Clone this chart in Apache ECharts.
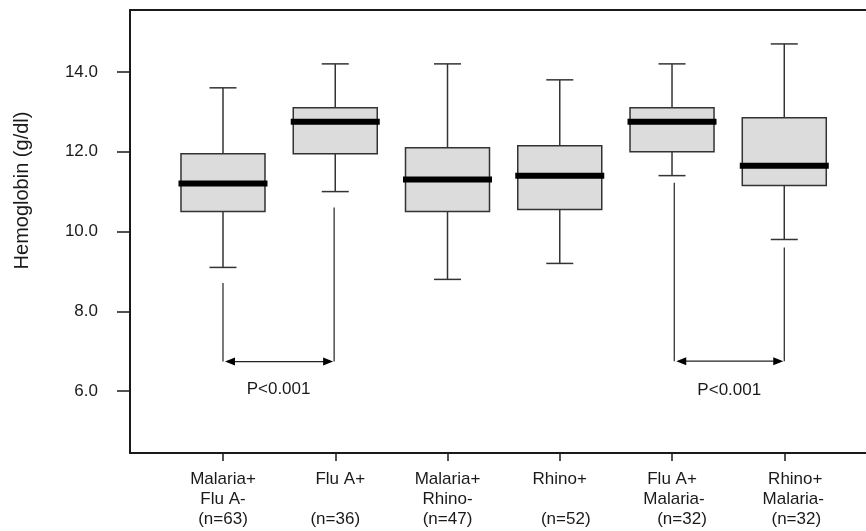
<!DOCTYPE html>
<html>
<head>
<meta charset="utf-8">
<script src="https://cdn.jsdelivr.net/npm/echarts@6/dist/echarts.min.js"></script>
<style>
  html, body { margin: 0; padding: 0; background: #fff; }
  #chart { width: 866px; height: 531px; }
</style>
</head>
<body>
<div id="chart"></div>
<script>
// groups along the x axis
const categories = [
  "Malaria+\nFlu A-\n(n=63)",
  "Flu A+\n\n(n=36)",
  "Malaria+\nRhino-\n(n=47)",
  "Rhino+\n\n(n=52)",
  "Flu A+\nMalaria-\n(n=32)",
  "Rhino+\nMalaria-\n(n=32)"
];
const positions = [1, 2, 3, 4, 5, 6];

// box plot values (g/dl)
const whiskerLow = [9.1, 11.0, 8.8, 9.2, 11.4, 9.8];
const q1 = [10.5, 11.95, 10.5, 10.55, 12.0, 11.15];
const median = [11.2, 12.75, 11.3, 11.4, 12.75, 11.65];
const q3 = [11.95, 13.1, 12.1, 12.15, 13.1, 12.85];
const whiskerHigh = [13.6, 14.2, 14.2, 13.8, 14.2, 14.7];

const yTicks = [6, 8, 10, 12, 14];

// comparison brackets
const compFrom = [1, 5.02];
const compFromTop = [8.71, 11.22];
const compTo = [1.99, 6];
const compToTop = [10.6, 9.6];
const compBar = [6.74, 6.75];
const compText = ["P<0.001", "P<0.001"];
const compTextY = [6.05, 6.03];

const ink = "#1a1a1a";
const font = "Liberation Sans, Arial, sans-serif";

// the original labels are not quite centred under their ticks
const labelNudge = [
  [0, 0, 0],
  [10, 0, 0],
  [0, 0, 0],
  [0, 0, 12],
  [0, 4, 20],
  [22, 18, 24]
];

const boxData = positions.map(function (p, i) {
  return [p, whiskerLow[i], q1[i], median[i], q3[i], whiskerHigh[i]];
});
const compData = compFrom.map(function (x, i) {
  return [x, compFromTop[i], compTo[i], compToTop[i], compBar[i], compTextY[i]];
});

const rich = {};
[0, 4, 10, 12, 18, 20, 22, 24].forEach(function (p) {
  rich["p" + p] = {
    fontSize: 17, lineHeight: 20, color: ink, fontFamily: font,
    padding: [0, 0, 0, p]
  };
});

const chart = echarts.init(document.getElementById("chart"));

const option = {
  animation: false,
  grid: { left: 130, right: 0, top: 10, bottom: 78 },
  xAxis: [
    {
      type: "value",
      position: "bottom",
      min: 0.1716,
      max: 6.728,
      axisLine: { show: true, lineStyle: { color: ink, width: 2 } },
      axisTick: { show: true, customValues: positions, length: 8, lineStyle: { color: ink, width: 1.5 } },
      axisLabel: {
        customValues: positions,
        formatter: function (v) {
          const i = Math.round(v) - 1;
          return categories[i].split("\n").map(function (s, k) {
            return s === "" ? "{p0| }" : "{p" + labelNudge[i][k] + "|" + s + "}";
          }).join("\n");
        },
        rich: rich,
        margin: 16,
        fontSize: 17,
        lineHeight: 20,
        color: ink,
        fontFamily: font
      },
      splitLine: { show: false }
    },
    {
      type: "value",
      position: "top",
      min: 0.1716,
      max: 6.728,
      axisLine: { show: true, lineStyle: { color: ink, width: 2 } },
      axisTick: { show: false },
      axisLabel: { show: false },
      splitLine: { show: false }
    }
  ],
  yAxis: {
    type: "value",
    min: 4.45,
    max: 15.55,
    name: "Hemoglobin (g/dl)",
    nameLocation: "middle",
    nameRotate: 90,
    nameGap: 98,
    nameTextStyle: { fontSize: 20, color: ink, fontFamily: font, padding: [0, 0, 0, 82] },
    axisLine: { show: true, lineStyle: { color: ink, width: 2 } },
    axisTick: { show: true, customValues: yTicks, length: 13, lineStyle: { color: ink, width: 1.5 } },
    axisLabel: {
      customValues: yTicks,
      formatter: function (v) { return v.toFixed(1); },
      margin: 32,
      fontSize: 17,
      color: ink,
      fontFamily: font
    },
    splitLine: { show: false }
  },
  series: [
    {
      type: "custom",
      xAxisIndex: 0,
      data: boxData,
      renderItem: function (params, api) {
        const x = api.value(0);
        const lo = api.coord([x, api.value(1)]);
        const b1 = api.coord([x, api.value(2)]);
        const md = api.coord([x, api.value(3)]);
        const b3 = api.coord([x, api.value(4)]);
        const hi = api.coord([x, api.value(5)]);
        const cx = lo[0];
        const line = { stroke: "#333", lineWidth: 1.5 };
        return {
          type: "group",
          children: [
            { type: "line", shape: { x1: cx, y1: hi[1], x2: cx, y2: b3[1] }, style: line },
            { type: "line", shape: { x1: cx, y1: b1[1], x2: cx, y2: lo[1] }, style: line },
            { type: "line", shape: { x1: cx - 13.5, y1: hi[1], x2: cx + 13.5, y2: hi[1] }, style: line },
            { type: "line", shape: { x1: cx - 13.5, y1: lo[1], x2: cx + 13.5, y2: lo[1] }, style: line },
            {
              type: "rect",
              shape: { x: cx - 42, y: b3[1], width: 84, height: b1[1] - b3[1] },
              style: { fill: "#dcdcdc", stroke: "#333", lineWidth: 1.5 }
            },
            {
              type: "line",
              shape: { x1: cx - 44.5, y1: md[1], x2: cx + 44.5, y2: md[1] },
              style: { stroke: "#000", lineWidth: 6 }
            }
          ]
        };
      }
    },
    {
      type: "custom",
      xAxisIndex: 0,
      data: compData,
      renderItem: function (params, api) {
        const a = api.coord([api.value(0), api.value(1)]);
        const b = api.coord([api.value(2), api.value(3)]);
        const bar = api.coord([api.value(0), api.value(4)])[1];
        const ty = api.coord([api.value(0), api.value(5)])[1];
        const line = { stroke: "#222", lineWidth: 1.2 };
        const l = a[0] + 2;
        const r = b[0] - 1;
        return {
          type: "group",
          children: [
            { type: "line", shape: { x1: a[0], y1: a[1], x2: a[0], y2: bar }, style: line },
            { type: "line", shape: { x1: b[0], y1: b[1], x2: b[0], y2: bar }, style: line },
            { type: "line", shape: { x1: l + 8, y1: bar, x2: r - 8, y2: bar }, style: line },
            { type: "polygon", shape: { points: [[l, bar], [l + 10, bar - 4], [l + 10, bar + 4]] }, style: { fill: "#000" } },
            { type: "polygon", shape: { points: [[r, bar], [r - 10, bar - 4], [r - 10, bar + 4]] }, style: { fill: "#000" } },
            {
              type: "text",
              style: {
                text: compText[params.dataIndex],
                x: (a[0] + b[0]) / 2,
                y: ty,
                align: "center",
                verticalAlign: "middle",
                fontSize: 17,
                fill: ink,
                fontFamily: font
              }
            }
          ]
        };
      }
    }
  ]
};

chart.setOption(option);
</script>
</body>
</html>
